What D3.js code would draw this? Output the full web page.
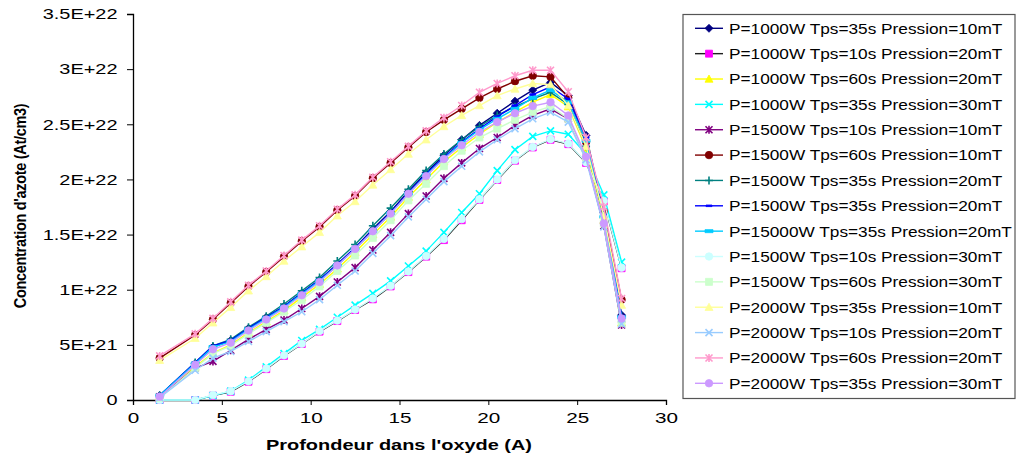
<!DOCTYPE html>
<html><head><meta charset="utf-8">
<script src="https://cdn.jsdelivr.net/npm/d3@7"></script>
<style>body{margin:0;background:#fff}svg{display:block}</style>
</head><body>
<script>
// Depth (Angstrom)
const depth = [1.5,3.5,4.5,5.5,6.5,7.5,8.5,9.5,10.5,11.5,12.5,13.5,14.5,15.5,16.5,17.5,18.5,19.5,20.5,21.5,22.5,23.5,24.5,25.5,26.5,27.5];

// Nitrogen concentration, in units of 1E+21 at/cm3
const s1  = [0.4,3.3,4.8,5.4,6.5,7.5,8.5,9.7,10.9,12.3,13.8,15.5,17.1,18.9,20.6,22.2,23.6,24.9,26.0,27.1,28.1,28.8,27.6,24.0,17.0,7.7];
const s2  = [0,0,0.4,0.75,1.66,2.8,4.0,5.08,6.2,7.16,8.16,9.13,10.3,11.6,13.0,14.5,16.3,18.15,19.95,21.7,22.9,23.6,23.2,21.5,18.0,11.95];
const s3  = [0.3,3.0,4.25,5.0,6.1,7.1,8.1,9.3,10.5,11.9,13.4,15.0,16.6,18.4,20.0,21.6,22.9,24.1,25.2,26.1,27.0,27.7,26.6,22.8,16.3,7.0];
const s4  = [0,0,0.4,0.8,1.8,3.0,4.2,5.4,6.4,7.5,8.6,9.67,10.8,12.15,13.5,15.2,17.0,18.7,20.8,22.7,23.9,24.4,24.1,22.3,18.6,12.5];
const s5  = [0.3,2.9,3.5,4.5,5.5,6.4,7.25,8.3,9.4,10.7,12.0,13.6,15.2,16.9,18.5,20.1,21.5,22.8,23.8,24.9,25.8,26.4,25.5,22.0,15.8,6.8];
const s6  = [3.8,5.9,7.3,8.8,10.3,11.6,13.0,14.4,15.7,17.2,18.5,20.1,21.5,22.9,24.3,25.4,26.4,27.4,28.2,28.9,29.4,29.3,27.4,23.4,17.1,9.1];
const s7  = [0.4,3.4,4.9,5.5,6.6,7.6,8.7,9.9,11.1,12.6,14.1,15.8,17.4,19.1,20.8,22.3,23.6,24.8,25.8,26.6,27.3,27.9,26.8,23.0,16.6,7.6];
const s8  = [0.4,3.4,4.9,5.4,6.5,7.5,8.5,9.7,10.9,12.3,13.8,15.4,17.0,18.8,20.5,22.0,23.4,24.6,25.7,26.7,27.7,28.4,27.3,23.8,16.8,7.6];
const s9  = [0.4,3.3,4.8,5.3,6.4,7.4,8.4,9.6,10.8,12.2,13.7,15.3,16.9,18.7,20.4,21.9,23.3,24.5,25.5,26.4,27.4,28.1,27.0,23.5,16.6,7.5];
const s10 = [0,0,0.45,0.8,1.7,2.85,4.05,5.1,6.25,7.2,8.2,9.2,10.35,11.65,13.05,14.6,16.4,18.2,20.0,21.75,22.95,23.65,23.25,21.55,18.05,12.0];
const s11 = [0.2,2.9,4.2,4.9,6.0,7.0,8.0,9.07,10.3,11.7,13.1,14.7,16.3,18.1,19.6,21.2,22.6,23.8,24.6,25.4,26.1,26.6,25.5,22.0,16.0,7.0];
const s12 = [3.6,5.6,7.0,8.4,9.9,11.2,12.6,13.9,15.2,16.7,18.0,19.5,20.9,22.3,23.6,24.8,25.8,26.7,27.6,28.2,28.7,28.6,26.7,23.0,16.7,8.6];
const s13 = [0.2,2.7,3.8,4.4,5.3,6.2,7.1,8.0,9.1,10.4,11.7,13.3,14.9,16.6,18.2,19.8,21.2,22.5,23.6,24.6,25.5,26.1,25.2,21.8,15.7,6.9];
const s14 = [4.0,6.0,7.4,8.9,10.4,11.7,13.1,14.5,15.8,17.3,18.6,20.2,21.6,23.0,24.4,25.6,26.7,27.9,28.7,29.4,29.9,29.9,27.95,23.8,17.5,9.2];
const s15 = [0.3,3.2,4.6,5.2,6.3,7.3,8.3,9.5,10.7,12.2,13.7,15.3,16.9,18.7,20.3,21.85,23.1,24.3,25.2,26.0,26.65,27.0,25.8,22.05,16.0,7.4];

const seriesNames = [
  "P=1000W Tps=35s Pression=10mT","P=1000W Tps=10s Pression=20mT","P=1000W Tps=60s Pression=20mT",
  "P=1000W Tps=35s Pression=30mT","P=1500W Tps=10s Pression=10mT","P=1500W Tps=60s Pression=10mT",
  "P=1500W Tps=35s Pression=20mT","P=1500W Tps=35s Pression=20mT","P=15000W Tps=35s Pression=20mT",
  "P=1500W Tps=10s Pression=30mT","P=1500W Tps=60s Pression=30mT","P=2000W Tps=35s Pression=10mT",
  "P=2000W Tps=10s Pression=20mT","P=2000W Tps=60s Pression=20mT","P=2000W Tps=35s Pression=30mT"];
const seriesValues = [s1,s2,s3,s4,s5,s6,s7,s8,s9,s10,s11,s12,s13,s14,s15];
const markerColors = ["#000080","#FF00FF","#FFFF00","#00FFFF","#800080","#800000","#008080","#0000FF","#00CCFF","#CCFFFF","#CCFFCC","#FFFF99","#99CCFF","#FF99CC","#CC99FF"];
const lineColors   = ["#000080","#202020","#FFFF00","#00FFFF","#800080","#800000","#008080","#0000FF","#00CCFF","#CCFFFF","#CCFFCC","#FFFF99","#99CCFF","#FF99CC","#CC99FF"];
const markerShapes = ["diamond","square","triangle","cross","star","circle","plus","dash","bar","circle","square","triangle","cross","star","circle"];

const xTicks = [0,5,10,15,20,25,30];
const yTicks = [0,5,10,15,20,25,30,35];
const yTickLabels = ["0","5E+21","1E+22","1.5E+22","2E+22","2.5E+22","3E+22","3.5E+22"];

const W = 1016, H = 459;
const svg = d3.select("body").append("svg").attr("width", W).attr("height", H)
  .style("font-family", "Arial, 'Liberation Sans', sans-serif");

const x = d3.scaleLinear().domain([0,30]).range([133,666]);
const y = d3.scaleLinear().domain([0,35]).range([400,14]);

function markerPath(shape){
  switch(shape){
    case "diamond": return "M0,-4L4,0L0,4L-4,0Z";
    case "square": return "M-3.5,-3.5H3.5V3.5H-3.5Z";
    case "triangle": return "M0,-4L4,3.2L-4,3.2Z";
    case "cross": return "M-3.5,-3.5L3.5,3.5M3.5,-3.5L-3.5,3.5";
    case "star": return "M-3.5,-3.5L3.5,3.5M3.5,-3.5L-3.5,3.5M0,-4V4";
    case "plus": return "M-4,0H4M0,-4V4";
    case "dash": return "M-3,-0.8H3V0.8H-3Z";
    case "bar": return "M-4,-1.5H4V1.5H-4Z";
    case "circle": return d3.symbol(d3.symbolCircle, 44)();
  }
}
const openShapes = new Set(["cross","star","plus"]);

function drawMarker(g, shape, color, cx, cy){
  const p = g.append("path").attr("d", markerPath(shape))
    .attr("transform", `translate(${cx},${cy})`);
  if(openShapes.has(shape)) p.attr("fill","none").attr("stroke",color).attr("stroke-width",1.6);
  else p.attr("fill",color).attr("stroke",color).attr("stroke-width",0.8);
}

// axes
const xAxis = d3.axisBottom(x).tickValues(xTicks).tickSize(5).tickFormat(d=>d);
const gx = svg.append("g").attr("transform","translate(0,400)").call(xAxis);
gx.select(".domain").attr("stroke","#000").attr("stroke-width",1.3);
gx.selectAll(".tick line").attr("stroke","#000");
gx.selectAll(".tick text").attr("font-size",15).attr("fill","#000")
  .attr("y",18).attr("dy","0.35em")
  .attr("transform", function(){ const t=d3.select(this); return null; });
gx.selectAll(".tick text").each(function(){
  const t = d3.select(this);
  t.attr("transform","scale(1.38,1)").attr("x",0);
});

const yAxis = d3.axisLeft(y).tickValues(yTicks).tickSize(6).tickFormat((d,i)=>yTickLabels[i]);
const gy = svg.append("g").attr("transform","translate(133,0)").call(yAxis);
gy.select(".domain").attr("stroke","#000").attr("stroke-width",1.3);
gy.selectAll(".tick line").attr("stroke","#000");
gy.selectAll(".tick text").attr("font-size",15).attr("fill","#000")
  .attr("x",0).attr("text-anchor","end")
  .attr("transform","translate(-15.5,0) scale(1.33,1)");

// titles
svg.append("text").attr("transform","translate(399,445) scale(1.33,1)")
  .attr("text-anchor","middle").attr("dy","0.35em").attr("font-size",15).attr("font-weight","bold")
  .text("Profondeur dans l'oxyde (A)");
svg.append("text").attr("transform","translate(20,206) scale(1.2,1) rotate(-90)")
  .attr("text-anchor","middle").attr("dy","0.35em").attr("font-size",14.5).attr("font-weight","bold")
  .attr("letter-spacing","-0.3")
  .text("Concentration d'azote (At/cm3)");

// series
const line = d3.line().x((d,i)=>x(depth[i])).y(d=>y(d));
const plot = svg.append("g");
seriesValues.forEach((vals, k) => {
  const g = plot.append("g");
  g.append("path").datum(vals).attr("d", line).attr("fill","none")
    .attr("stroke", lineColors[k]).attr("stroke-width",1.4);
  vals.forEach((v,i) => drawMarker(g, markerShapes[k], markerColors[k], x(depth[i]), y(v)));
});

// legend
const leg = svg.append("g");
leg.append("rect").attr("x",683).attr("y",14.5).attr("width",332).attr("height",384)
  .attr("fill","#fff").attr("stroke","#555").attr("stroke-width",1.2);
const rowY = d3.scaleLinear().domain([0,14]).range([28.3,383.3]);
seriesNames.forEach((name,k) => {
  const cy = rowY(k);
  const g = leg.append("g");
  g.append("line").attr("x1",695).attr("x2",723).attr("y1",cy).attr("y2",cy)
    .attr("stroke",lineColors[k]).attr("stroke-width",1.4);
  drawMarker(g, markerShapes[k], markerColors[k], 709, cy);
  g.append("text").attr("transform",`translate(729,${cy}) scale(1.15,1)`)
    .attr("dy","0.36em").attr("font-size",15).attr("fill","#000").text(name);
});
</script>
</body></html>
